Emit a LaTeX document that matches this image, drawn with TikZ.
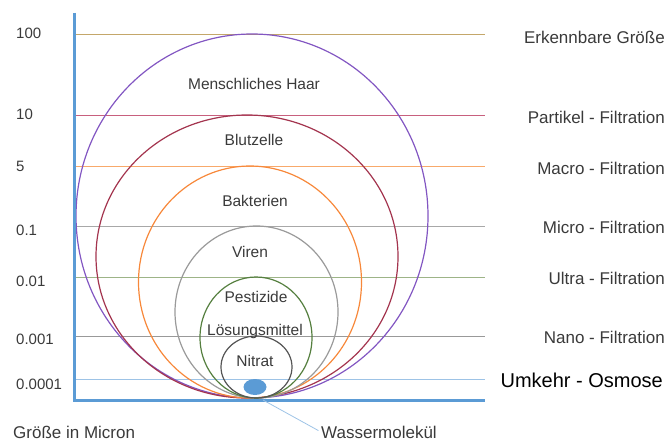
\documentclass[tikz,border=0pt]{standalone}
\usepackage{fontspec}
\setmainfont{Liberation Sans}
\usepackage{tikz}
\usetikzlibrary{positioning, calc}

\definecolor{axisblue}{HTML}{5B9BD5}
\definecolor{lightblue}{HTML}{9DC3E6}
\definecolor{linegold}{HTML}{C4A76A}
\definecolor{linerose}{HTML}{C8607E}
\definecolor{lineorange}{HTML}{F8A96B}
\definecolor{linegray}{HTML}{A8A8A8}
\definecolor{linegreen}{HTML}{9DB487}
\definecolor{linedark}{HTML}{999999}
\definecolor{haarpurple}{HTML}{8256C2}
\definecolor{blutred}{HTML}{A3344E}
\definecolor{baktorange}{HTML}{F7883A}
\definecolor{virgray}{HTML}{9A9A9A}
\definecolor{pestgreen}{HTML}{557F3F}
\definecolor{nitratgray}{HTML}{555555}
\definecolor{textgray}{HTML}{3A3A3A}

\begin{document}
\begin{tikzpicture}[x=1pt, y=-1pt, font=\fontsize{15.5}{18}\selectfont, text=textgray,
ticklabel/.style={anchor=west, inner sep=0pt, font=\fontsize{15}{18}\selectfont},
filterlabel/.style={anchor=east, inner sep=0pt, font=\fontsize{17}{20}\selectfont},
sizelabel/.style={inner sep=1pt},
sizecircle/.style={line width=1.2pt}
]
    \useasboundingbox (0,0) rectangle (668,441);

    % Size levels
    \foreach \yy/\lab/\col/\ly [count=\i] in {34/100/linegold/33, 115/10/linerose/114,
        166/5/lineorange/166, 226/0.1/linegray/230, 277/0.01/linegreen/281,
        336/0.001/linedark/339, 379/0.0001/lightblue/384}
    {
        \draw [\col, line width=0.9pt] (75, \yy) -- (485, \yy);
        \node (tick\i) at (16, \ly) [ticklabel] {\lab};
    }

    % Filtration stages
    \foreach \ly/\lab [count=\i] in {37/Erkennbare Größe, 117/Partikel - Filtration,
        168/Macro - Filtration, 227/Micro - Filtration, 278/Ultra - Filtration,
        337/Nano - Filtration}
        \node (stage\i) at (665, \ly) [filterlabel] {\lab};
    \node (stage7) at (663, 380) [filterlabel, text=black,
        font=\fontsize{20}{24}\selectfont] {Umkehr - Osmose};

    % Particles
    \draw [sizecircle, haarpurple] (252, 216) ellipse [x radius=176pt, y radius=182pt];
    \draw [sizecircle, blutred] (247, 256.5) ellipse [x radius=151pt, y radius=141.5pt];
    \draw [sizecircle, baktorange] (250, 282) ellipse [x radius=111.5pt, y radius=116pt];
    \draw [sizecircle, virgray] (256.5, 312) ellipse [x radius=81.5pt, y radius=86pt];
    \draw [sizecircle, pestgreen] (256, 337.5) ellipse [x radius=56pt, y radius=60.5pt];
    \draw [sizecircle, nitratgray] (256.5, 367) ellipse [x radius=35.5pt, y radius=31pt];

    \node (haar) at (254, 84) [sizelabel] {Menschliches Haar};
    \node (blut) at (254, 140) [sizelabel] {Blutzelle};
    \node (bakt) at (255, 201) [sizelabel] {Bakterien};
    \node (viren) at (250, 252) [sizelabel] {Viren};
    \node (pest) at (256, 297) [sizelabel] {Pestizide};
    \node (loes) at (255, 331) [sizelabel] {Lösungsmittel};
    \node (nitrat) at (255, 361) [sizelabel] {Nitrat};

    % Water molecule
    \fill [axisblue] (255, 387) ellipse [x radius=11.5pt, y radius=8pt];

    % Axes
    \draw [axisblue, line width=3pt, line join=miter] (74, 13) -- (74, 400) -- (485, 400);

    % Annotation
    \coordinate (wm_tip) at (263, 400);
    \node (wm) at (321, 432) [anchor=west, inner sep=0pt,
        font=\fontsize{17}{20}\selectfont] {Wassermolekül};
    \draw [lightblue, line width=0.8pt, shorten >=3pt] (wm_tip) -- (wm.west);

    \node (unit) at (13, 432) [anchor=west, inner sep=0pt,
        font=\fontsize{17}{20}\selectfont] {Größe in Micron};
\end{tikzpicture}
\end{document}
